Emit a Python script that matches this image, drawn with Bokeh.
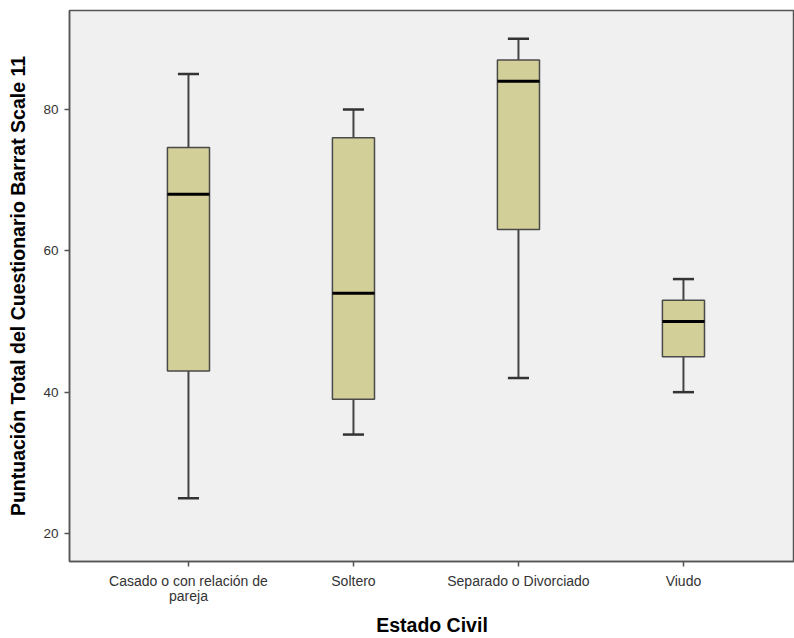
from bokeh.plotting import figure
from bokeh.models import ColumnDataSource, FixedTicker, Range1d
from bokeh.embed import file_html
from bokeh.resources import INLINE

categories = ["Casado o con relación de\npareja", "Soltero", "Separado o Divorciado", "Viudo"]
lower_whisker = [25, 34, 42, 40]
q1 = [43, 39, 63, 45]
median = [68, 54, 84, 50]
q3 = [74.6, 76, 87, 53]
upper_whisker = [85, 80, 90, 56]
y_ticks = [20, 40, 60, 80]

xs = list(range(1, len(categories) + 1))
box_w = 0.255
cap_w = 0.128

src = ColumnDataSource(dict(
    x=xs, lw=lower_whisker, q1=q1, med=median, q3=q3, uw=upper_whisker,
    xl=[x - box_w / 2 for x in xs], xr=[x + box_w / 2 for x in xs],
    cl=[x - cap_w / 2 for x in xs], cr=[x + cap_w / 2 for x in xs],
))

p = figure(width=794, height=638, output_backend="svg", toolbar_location=None,
           x_range=Range1d(0.279, 4.673), y_range=Range1d(16.04, 94.0),
           min_border_left=69, min_border_top=10, min_border_right=0, min_border_bottom=4)

p.background_fill_color = "#F0F0F0"
p.border_fill_color = "white"
p.outline_line_color = "#555555"
p.outline_line_width = 1.5
p.xgrid.visible = False
p.ygrid.visible = False

# whiskers
p.segment(x0="x", y0="q3", x1="x", y1="uw", source=src, line_color="#444444", line_width=2)
p.segment(x0="x", y0="lw", x1="x", y1="q1", source=src, line_color="#444444", line_width=2)
p.segment(x0="cl", y0="uw", x1="cr", y1="uw", source=src, line_color="#333333", line_width=2.5)
p.segment(x0="cl", y0="lw", x1="cr", y1="lw", source=src, line_color="#333333", line_width=2.5)
# boxes
p.vbar(x="x", width=box_w, bottom="q1", top="q3", source=src,
       fill_color="#D3CF98", line_color="#4a4a4a", line_width=1.5)
# medians
p.segment(x0="xl", y0="med", x1="xr", y1="med", source=src, line_color="black", line_width=3)

for ax in (p.xaxis[0], p.yaxis[0]):
    ax.axis_line_color = "#555555"
    ax.axis_line_width = 1.5
    ax.major_tick_line_color = "#555555"
    ax.major_tick_line_width = 1.5
    ax.major_tick_out = 5
    ax.major_tick_in = 0
    ax.minor_tick_line_color = None
    ax.major_label_text_font = "Liberation Sans"
    ax.major_label_text_color = "#333333"
    ax.axis_label_text_font = "Liberation Sans"
    ax.axis_label_text_font_style = "bold"
    ax.axis_label_text_color = "black"

p.xaxis.ticker = FixedTicker(ticks=xs)
p.xaxis.major_label_overrides = {x: c for x, c in zip(xs, categories)}
p.xaxis.major_label_text_font_size = "14px"
p.xaxis.major_label_text_line_height = 0.95
p.xaxis.major_label_standoff = 6
p.xaxis.axis_label = "Estado Civil"
p.xaxis.axis_label_text_font_size = "19.5px"
p.xaxis.axis_label_standoff = 7

p.yaxis.ticker = FixedTicker(ticks=y_ticks)
p.yaxis.major_label_text_font_size = "13.5px"
p.yaxis.major_label_standoff = 6
p.yaxis.axis_label = "Puntuación Total del Cuestionario Barrat Scale 11"
p.yaxis.axis_label_text_font_size = "19.5px"
p.yaxis.axis_label_standoff = 11

open("out.html", "w").write(file_html(p, INLINE))
